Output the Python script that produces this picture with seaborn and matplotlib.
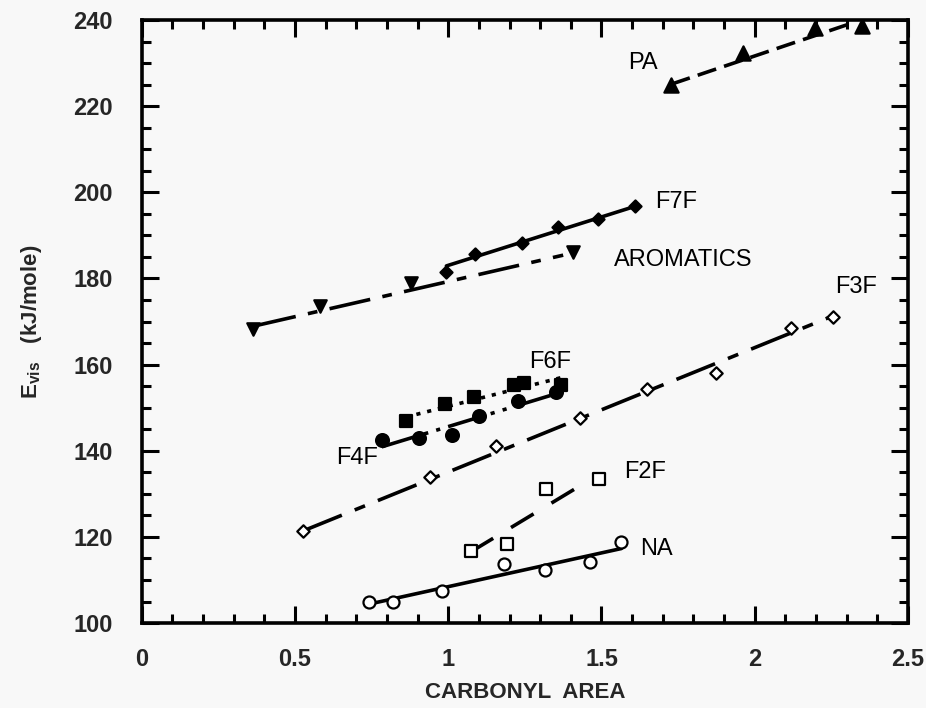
import matplotlib
matplotlib.use("Agg")
import matplotlib.pyplot as plt
import seaborn as sns
from matplotlib.ticker import MultipleLocator, FixedLocator

# ---------------- data ----------------
pa_x = [1.728, 1.960, 2.195, 2.351]
pa_y = [224.9, 232.3, 238.1, 238.6]
pa_fit_x = [1.728, 2.310]
pa_fit_y = [225.1, 239.1]

aro_x = [0.362, 0.581, 0.880, 1.407]
aro_y = [168.2, 173.6, 178.9, 186.2]
aro_fit_x = [0.370, 1.375]
aro_fit_y = [169.0, 185.4]

f7f_x = [0.994, 1.087, 1.242, 1.358, 1.489, 1.608]
f7f_y = [181.6, 185.7, 188.3, 191.9, 193.7, 196.7]
f7f_fit_x = [0.994, 1.608]
f7f_fit_y = [182.9, 196.7]

f6f_x = [0.861, 0.989, 1.084, 1.214, 1.247, 1.369]
f6f_y = [147.0, 150.8, 152.4, 155.3, 155.8, 155.3]
f6f_fit_x = [0.861, 1.370]
f6f_fit_y = [147.8, 157.0]

f4f_x = [0.783, 0.904, 1.012, 1.101, 1.228, 1.353]
f4f_y = [142.5, 142.9, 143.6, 148.1, 151.6, 153.7]
f4f_fit_x = [0.783, 1.360]
f4f_fit_y = [140.9, 153.4]

f3f_x = [0.527, 0.940, 1.157, 1.429, 1.647, 1.875, 2.119, 2.255]
f3f_y = [121.4, 133.8, 141.2, 147.7, 154.3, 158.1, 168.6, 171.1]
f3f_fit_x = [0.527, 2.255]
f3f_fit_y = [121.4, 171.3]

f2f_x = [1.073, 1.193, 1.318, 1.492]
f2f_y = [116.8, 118.3, 131.1, 133.4]
f2f_fit_x = [1.073, 1.424]
f2f_fit_y = [116.5, 131.6]

na_x = [0.742, 0.820, 0.980, 1.181, 1.317, 1.462, 1.565]
na_y = [104.9, 104.9, 107.5, 113.6, 112.3, 114.2, 118.7]
na_fit_x = [0.742, 1.565]
na_fit_y = [104.4, 117.3]

label_text = ["PA", "F7F", "AROMATICS", "F3F", "F6F", "F4F", "F2F", "NA"]
label_x = [1.636, 1.744, 1.766, 2.331, 1.331, 0.701, 1.641, 1.679]
label_y = [229.9, 197.8, 184.3, 178.0, 160.7, 138.4, 135.1, 117.3]

x_ticks = [0, 0.5, 1, 1.5, 2, 2.5]
x_tick_labels = ["0", "0.5", "1", "1.5", "2", "2.5"]
y_ticks = [100, 120, 140, 160, 180, 200, 220, 240]

# ---------------- style ----------------
sns.set_style("ticks")
plt.rcParams["font.family"] = ["Liberation Sans", "DejaVu Sans"]
plt.rcParams["mathtext.fontset"] = "custom"
plt.rcParams["mathtext.rm"] = "Liberation Sans"
plt.rcParams["mathtext.bf"] = "Liberation Sans:bold"
plt.rcParams["lines.scale_dashes"] = False

BG = "#f8f8f8"
fig = plt.figure(figsize=(9.26, 7.08), dpi=100, facecolor=BG)
ax = fig.add_axes([0.153, 0.12, 0.8276, 0.8518])
ax.set_facecolor(BG)

LW = 2.6
series = [
    (pa_x, pa_y, pa_fit_x, pa_fit_y, (0, (14, 6)), "^", 105, "black"),
    (aro_x, aro_y, aro_fit_x, aro_fit_y, (0, (30, 9, 7, 9)), "v", 80, "black"),
    (f7f_x, f7f_y, f7f_fit_x, f7f_fit_y, "-", "D", 38, "black"),
    (f6f_x, f6f_y, f6f_fit_x, f6f_fit_y, (0, (3, 5)), "s", 85, "black"),
    (f4f_x, f4f_y, f4f_fit_x, f4f_fit_y, (0, (27, 5, 3, 6, 3, 6)), "o", 85, "black"),
    (f3f_x, f3f_y, f3f_fit_x, f3f_fit_y, (0, (30, 10, 8, 10)), "D", 40, "white"),
    (f2f_x, f2f_y, f2f_fit_x, f2f_fit_y, (0, (19, 15)), "s", 75, "white"),
    (na_x, na_y, na_fit_x, na_fit_y, "-", "o", 75, "white"),
]

for xs, ys, fx, fy, ls, mk, sz, fc in series:
    sns.lineplot(x=fx, y=fy, ax=ax, color="black", linewidth=LW,
                 linestyle=ls, estimator=None, sort=False, legend=False)
    sns.scatterplot(x=xs, y=ys, ax=ax, marker=mk, s=sz, color=fc,
                    edgecolor="black", linewidth=1.6, zorder=3, legend=False)

for t, tx, ty in zip(label_text, label_x, label_y):
    ax.text(tx, ty, t, ha="center", va="center", fontsize=17, color="black")

ax.set_xlim(0, 2.5)
ax.set_ylim(100, 240)
ax.xaxis.set_major_locator(FixedLocator(x_ticks))
ax.set_xticklabels(x_tick_labels)
ax.xaxis.set_minor_locator(MultipleLocator(0.1))
ax.yaxis.set_major_locator(FixedLocator(y_ticks))
ax.yaxis.set_minor_locator(MultipleLocator(5))

ax.tick_params(which="both", direction="in", top=True, right=True,
               color="black", width=2.2)
ax.tick_params(which="major", length=12)
ax.tick_params(which="minor", length=6.5)
ax.tick_params(axis="x", which="major", pad=18, labelsize=17)
ax.tick_params(axis="y", which="major", pad=21, labelsize=17)
for lab in ax.get_xticklabels() + ax.get_yticklabels():
    lab.set_fontweight("bold")

for sp in ax.spines.values():
    sp.set_linewidth(2.6)
    sp.set_color("black")

ax.set_xlabel("CARBONYL  AREA", fontsize=16, fontweight="bold")
ax.set_ylabel(r"$\mathbf{E_{vis}}$   (kJ/mole)", fontsize=16, fontweight="bold")
ax.xaxis.set_label_coords(0.5, -0.098)
ax.yaxis.set_label_coords(-0.128, 0.5)

fig.savefig("out.png", dpi=100, facecolor=BG)
